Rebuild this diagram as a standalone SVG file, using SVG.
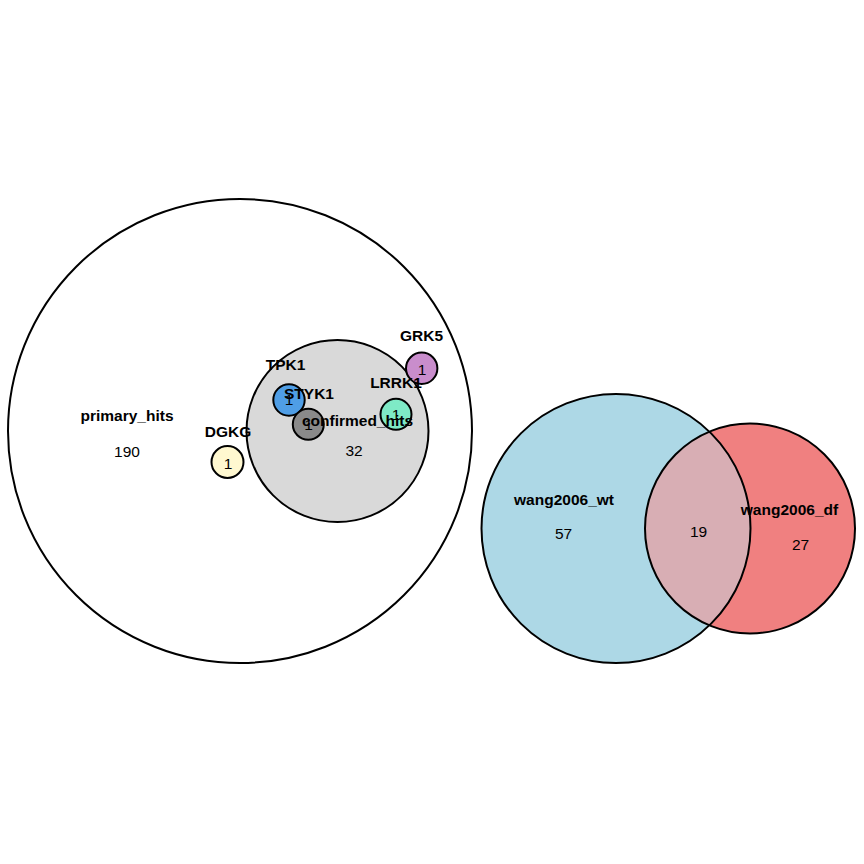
<svg xmlns="http://www.w3.org/2000/svg" width="864" height="864" viewBox="0 0 864 864">
<style>
.c{stroke:#000;stroke-width:2}
.l{font-family:"Liberation Sans",Arial,sans-serif;font-weight:bold;font-size:15.5px;text-anchor:middle;fill:#000}
.n{font-family:"Liberation Sans",Arial,sans-serif;font-size:15.5px;text-anchor:middle;fill:#000}
</style>
<defs>
<clipPath id="wtclip"><circle cx="616" cy="528.5" r="134.5"/></clipPath>
</defs>
<rect width="864" height="864" fill="#fff"/>
<g id="primary_hits">
<circle class="c" cx="240" cy="431" r="232" fill="#fff"/>
<text class="l" x="127" y="421">primary_hits</text>
<text class="n" x="127" y="457">190</text>
</g>
<g id="confirmed_hits">
<circle class="c" cx="337.5" cy="431" r="91" fill="#d9d9d9"/>
</g>
<g id="DGKG">
<circle class="c" cx="227.5" cy="462" r="16" fill="#fff8d0"/>
<text class="l" x="228" y="437">DGKG</text>
<text class="n" x="228" y="469">1</text>
</g>
<g id="GRK5">
<circle class="c" cx="421.7" cy="368.3" r="15.7" fill="#c98dcc"/>
<text class="l" x="421.5" y="341">GRK5</text>
<text class="n" x="422" y="375">1</text>
</g>
<g id="TPK1">
<circle class="c" cx="289" cy="400" r="15.7" fill="#4f9ee6"/>
<text class="l" x="285.5" y="370">TPK1</text>
<text class="n" x="289" y="405">1</text>
</g>
<g id="STYK1">
<circle class="c" cx="308.3" cy="424.3" r="15.5" fill="#8a8a8a"/>
<text class="l" x="309" y="399">STYK1</text>
<text class="n" x="308.5" y="430">1</text>
</g>
<g id="LRRK1">
<circle class="c" cx="396" cy="414.3" r="15.5" fill="#7eeac6"/>
<text class="l" x="396" y="388">LRRK1</text>
<text class="n" x="396" y="419.5">1</text>
</g>
<g id="confirmed_labels">
<text class="l" x="357.5" y="426">confirmed_hits</text>
<text class="n" x="354" y="456">32</text>
</g>
<g id="wang2006_wt">
<circle cx="616" cy="528.5" r="134.5" fill="#add8e6"/>
</g>
<g id="wang2006_df">
<circle cx="750" cy="528.5" r="105" fill="#f08080"/>
<circle cx="750" cy="528.5" r="105" fill="#d8aeb4" clip-path="url(#wtclip)"/>
<circle class="c" cx="616" cy="528.5" r="134.5" fill="none"/>
<circle class="c" cx="750" cy="528.5" r="105" fill="none"/>
<text class="l" x="564" y="505">wang2006_wt</text>
<text class="n" x="563.5" y="539">57</text>
<text class="n" x="698.5" y="537">19</text>
<text class="l" x="789.5" y="515">wang2006_df</text>
<text class="n" x="800.5" y="550">27</text>
</g>
<g id="connectors"/>
</svg>
